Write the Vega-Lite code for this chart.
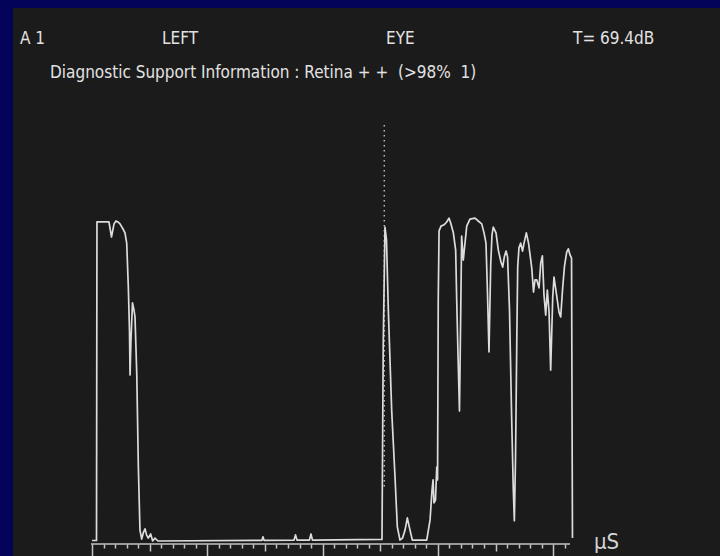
{
  "$schema": "https://vega.github.io/schema/vega-lite/v6.json",
  "width": 707,
  "height": 548,
  "autosize": {"type": "none"},
  "padding": {"left": 13, "top": 8, "right": 0, "bottom": 0},
  "background": "#03035a",
  "config": {
    "view": {"fill": "#1b1b1b", "stroke": null},
    "font": "DejaVu Sans Condensed, Liberation Sans, sans-serif"
  },
  "datasets": {
    "echo": [
      {"t": 0, "a": 0.16}, {"t": 0.39, "a": 0.16}, {"t": 0.43, "a": 99.7}, {"t": 0.95, "a": 99.7},
      {"t": 1.47, "a": 99.7}, {"t": 1.69, "a": 95.0}, {"t": 1.91, "a": 99.1}, {"t": 2.08, "a": 100},
      {"t": 2.25, "a": 99.7}, {"t": 2.43, "a": 99.1}, {"t": 2.69, "a": 97.5}, {"t": 2.86, "a": 96.3},
      {"t": 3.01, "a": 93.1}, {"t": 3.15, "a": 79.4}, {"t": 3.25, "a": 65.9}, {"t": 3.30, "a": 51.9},
      {"t": 3.38, "a": 62.8}, {"t": 3.51, "a": 74.4}, {"t": 3.64, "a": 72.2}, {"t": 3.73, "a": 70.0},
      {"t": 3.88, "a": 52.5}, {"t": 4.02, "a": 23.1}, {"t": 4.16, "a": 3.4}, {"t": 4.31, "a": 0.6},
      {"t": 4.47, "a": 2.8}, {"t": 4.60, "a": 3.8}, {"t": 4.73, "a": 1.9}, {"t": 4.88, "a": 0.9},
      {"t": 5.09, "a": 2.2}, {"t": 5.26, "a": 0}, {"t": 5.46, "a": 0.9}, {"t": 5.72, "a": 0},
      {"t": 14.74, "a": 0.2}, {"t": 14.83, "a": 1.3}, {"t": 14.92, "a": 0.2},
      {"t": 17.52, "a": 0.3}, {"t": 17.65, "a": 1.9}, {"t": 17.78, "a": 0.3},
      {"t": 18.86, "a": 0.3}, {"t": 18.99, "a": 2.2}, {"t": 19.12, "a": 0.3},
      {"t": 25.15, "a": 0.5}, {"t": 25.26, "a": 61.9}, {"t": 25.41, "a": 98.1}, {"t": 25.54, "a": 94.1},
      {"t": 25.70, "a": 72.2}, {"t": 25.99, "a": 40.9}, {"t": 26.28, "a": 20.0}, {"t": 26.48, "a": 4.4},
      {"t": 26.71, "a": 0.3}, {"t": 26.93, "a": 0.9}, {"t": 27.15, "a": 3.4}, {"t": 27.35, "a": 7.2},
      {"t": 27.58, "a": 3.4}, {"t": 27.78, "a": 0.3}, {"t": 29.03, "a": 0.3}, {"t": 29.32, "a": 6.6},
      {"t": 29.49, "a": 15.9}, {"t": 29.58, "a": 19.1}, {"t": 29.66, "a": 11.9}, {"t": 29.79, "a": 12.8},
      {"t": 29.90, "a": 23.1}, {"t": 29.97, "a": 19.1}, {"t": 30.03, "a": 75.3}, {"t": 30.10, "a": 96.9},
      {"t": 30.27, "a": 98.4}, {"t": 30.53, "a": 98.8}, {"t": 30.76, "a": 99.7}, {"t": 30.96, "a": 100.9},
      {"t": 31.11, "a": 99.4}, {"t": 31.34, "a": 96.3}, {"t": 31.54, "a": 90.9}, {"t": 31.63, "a": 75.3},
      {"t": 31.77, "a": 54.4}, {"t": 31.87, "a": 40.6}, {"t": 31.96, "a": 65.9}, {"t": 32.06, "a": 95.3},
      {"t": 32.20, "a": 87.8}, {"t": 32.35, "a": 93.1}, {"t": 32.50, "a": 98.4}, {"t": 32.78, "a": 100.6},
      {"t": 33.22, "a": 100.9}, {"t": 33.50, "a": 100}, {"t": 33.80, "a": 99.1}, {"t": 34.00, "a": 96.3},
      {"t": 34.17, "a": 93.1}, {"t": 34.30, "a": 77.5}, {"t": 34.43, "a": 59.1}, {"t": 34.58, "a": 86.3},
      {"t": 34.69, "a": 95.6}, {"t": 34.80, "a": 98.1}, {"t": 35.04, "a": 96.3}, {"t": 35.24, "a": 90.9},
      {"t": 35.47, "a": 87.2}, {"t": 35.62, "a": 85.6}, {"t": 35.76, "a": 88.8}, {"t": 35.91, "a": 90.6},
      {"t": 36.04, "a": 88.8}, {"t": 36.21, "a": 72.2}, {"t": 36.40, "a": 37.8}, {"t": 36.54, "a": 15.9},
      {"t": 36.63, "a": 6.3}, {"t": 36.73, "a": 25.3}, {"t": 36.84, "a": 61.9}, {"t": 36.92, "a": 85.6},
      {"t": 37.03, "a": 91.6}, {"t": 37.18, "a": 93.1}, {"t": 37.34, "a": 90.6}, {"t": 37.47, "a": 93.1},
      {"t": 37.67, "a": 96.3}, {"t": 37.86, "a": 93.1}, {"t": 38.14, "a": 85.3}, {"t": 38.29, "a": 77.8},
      {"t": 38.42, "a": 81.6}, {"t": 38.57, "a": 81.6}, {"t": 38.77, "a": 79.1}, {"t": 38.92, "a": 86.9},
      {"t": 39.06, "a": 89.1}, {"t": 39.20, "a": 76.9}, {"t": 39.35, "a": 70.6}, {"t": 39.49, "a": 78.4},
      {"t": 39.64, "a": 71.6}, {"t": 39.78, "a": 53.4}, {"t": 39.96, "a": 76.3}, {"t": 40.07, "a": 82.5},
      {"t": 40.29, "a": 76.9}, {"t": 40.50, "a": 71.6}, {"t": 40.65, "a": 70.0}, {"t": 40.82, "a": 79.1},
      {"t": 40.98, "a": 85.9}, {"t": 41.17, "a": 90.3}, {"t": 41.31, "a": 91.3}, {"t": 41.46, "a": 89.4},
      {"t": 41.59, "a": 88.4}, {"t": 41.67, "a": 0.9}
    ],
    "labels": [
      {"t": -6.24, "a": 155.3, "text": "A 1"},
      {"t": 6.07, "a": 155.3, "text": "LEFT"},
      {"t": 25.5, "a": 155.3, "text": "EYE"},
      {"t": 41.72, "a": 155.3, "text": "T= 69.4dB"},
      {"t": -3.64, "a": 144.7, "text": "Diagnostic Support Information : Retina + +\u00a0\u00a0(>98%\u00a0\u00a01)"}
    ],
    "cursor": [{"t": 25.35, "a": 130, "a2": 16.9}],
    "baseline": [{"t": -0.09, "t2": 41.46, "a": -0.94}]
  },
  "encoding": {
    "x": {
      "field": "t",
      "type": "quantitative",
      "scale": {"domain": [-6.852, 54.466], "nice": false, "zero": false},
      "axis": {
        "values": [0,1,2,3,4,5,6,7,8,9,10,11,12,13,14,15,16,17,18,19,20,21,22,23,24,25,26,27,28,29,30,31,32,33,34,35,36,37,38,39,40,41],
        "labels": false,
        "domain": false,
        "grid": false,
        "offset": -12,
        "tickColor": "#c4c4c4",
        "tickWidth": 1.5,
        "tickSize": {
          "condition": [
            {"test": "datum.value % 10 === 0", "value": 12},
            {"test": "datum.value % 5 === 0", "value": 7}
          ],
          "value": 4
        },
        "title": "µS",
        "titleX": 593,
        "titleY": -3,
        "titleAlign": "center",
        "titleBaseline": "middle",
        "titleAngle": 0,
        "titleFont": "DejaVu Sans Condensed, Liberation Sans, sans-serif",
        "titleFontSize": 22,
        "titleFontWeight": "normal",
        "titleColor": "#d4d4d4"
      }
    },
    "y": {
      "field": "a",
      "type": "quantitative",
      "scale": {"domain": [-4.6875, 166.5625], "nice": false, "zero": false},
      "axis": null
    }
  },
  "layer": [
    {
      "data": {"name": "baseline"},
      "mark": {"type": "rule", "color": "#c4c4c4", "strokeWidth": 1.5},
      "encoding": {"x2": {"field": "t2"}}
    },
    {
      "data": {"name": "cursor"},
      "mark": {"type": "rule", "color": "#b8b8b8", "strokeWidth": 1.5, "strokeDash": [1.5, 3.5]},
      "encoding": {"y2": {"field": "a2"}}
    },
    {
      "data": {"name": "echo"},
      "mark": {"type": "line", "color": "#dcdcdc", "strokeWidth": 1.7, "strokeJoin": "round"},
      "encoding": {}
    },
    {
      "data": {"name": "labels"},
      "mark": {"type": "text", "align": "left", "baseline": "alphabetic", "fontSize": 17, "color": "#e2e2e2"},
      "encoding": {"text": {"field": "text", "type": "nominal"}}
    }
  ]
}
